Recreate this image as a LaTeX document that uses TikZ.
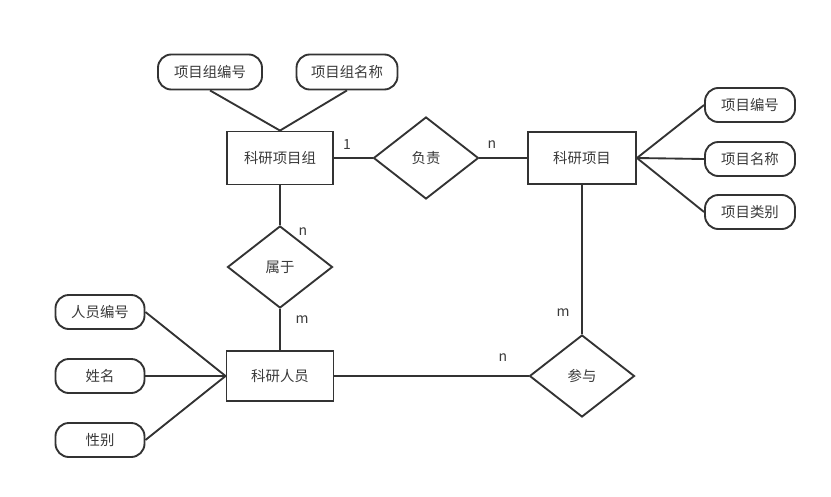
\documentclass[tikz,border=0pt]{standalone}
\usepackage{fontspec}
\setmainfont{Noto Sans CJK SC}
\usetikzlibrary{shapes.geometric}
\definecolor{lc}{HTML}{333333}
\definecolor{tc}{HTML}{3A3A3A}
\begin{document}
\begin{tikzpicture}[x=0.75pt,y=-0.75pt,
  every node/.style={font=\fontsize{10.8pt}{12pt}\selectfont, text=tc},
  ent/.style={draw=lc, line width=1.4pt, rectangle, inner sep=0pt},
  attr/.style={draw=lc, line width=1.4pt, rectangle, rounded corners=10pt, inner sep=0pt, minimum height=34*0.75pt},
  rel/.style={draw=lc, line width=1.4pt, diamond, inner sep=0pt, minimum width=105*0.75pt, minimum height=82*0.75pt},
  conn/.style={draw=lc, line width=1.4pt},
  card/.style={font=\fontsize{10.5pt}{12pt}\selectfont, text=tc, inner sep=0pt}]
\useasboundingbox (0,0) rectangle (831,496);
% entities
\node[ent, minimum width=106*0.75pt, minimum height=53*0.75pt] (g) at (280,158) {科研项目组};
\node[ent, minimum width=108*0.75pt, minimum height=52*0.75pt] (p) at (582,158) {科研项目};
\node[ent, minimum width=107*0.75pt, minimum height=50*0.75pt] (r) at (280,376) {科研人员};
% relations
\node[rel] (fz) at (426,158) {负责};
\node[rel] (sy) at (280,267) {属于};
\node[rel] (cy) at (582,376) {参与};
% attributes
\node[attr, minimum width=104*0.75pt, minimum height=35*0.75pt] (g1) at (210,72) {项目组编号};
\node[attr, minimum width=101*0.75pt, minimum height=35*0.75pt] (g2) at (347,72) {项目组名称};
\node[attr, minimum width=90*0.75pt] (p1) at (750,105) {项目编号};
\node[attr, minimum width=90*0.75pt] (p2) at (750,159) {项目名称};
\node[attr, minimum width=90*0.75pt] (p3) at (750,212) {项目类别};
\node[attr, minimum width=89*0.75pt] (r1) at (100,312) {人员编号};
\node[attr, minimum width=89*0.75pt] (r2) at (100,376) {姓名};
\node[attr, minimum width=89*0.75pt] (r3) at (100,440) {性别};
% connectors
\draw[conn] (g1.south) -- (g.north);
\draw[conn] (g2.south) -- (g.north);
\draw[conn] (p.east) -- (p1.west);
\draw[conn] (p.east) -- (p2.west);
\draw[conn] (p.east) -- (p3.west);
\draw[conn] (r1.east) -- (r.west);
\draw[conn] (r2.east) -- (r.west);
\draw[conn] (r3.east) -- (r.west);
\draw[conn] (g.east) -- (fz.west);
\draw[conn] (fz.east) -- (p.west);
\draw[conn] (g.south) -- (sy.north);
\draw[conn] (sy.south) -- (r.north);
\draw[conn] (r.east) -- (cy.west);
\draw[conn] (p.south) -- (cy.north);
% cardinalities
\node[card] (c1) at (347,145) {1};
\node[card] (c2) at (492,145) {n};
\node[card] (c3) at (303,232) {n};
\node[card] (c4) at (302,320) {m};
\node[card] (c5) at (563,313) {m};
\node[card] (c6) at (503,358) {n};
\end{tikzpicture}
\end{document}
